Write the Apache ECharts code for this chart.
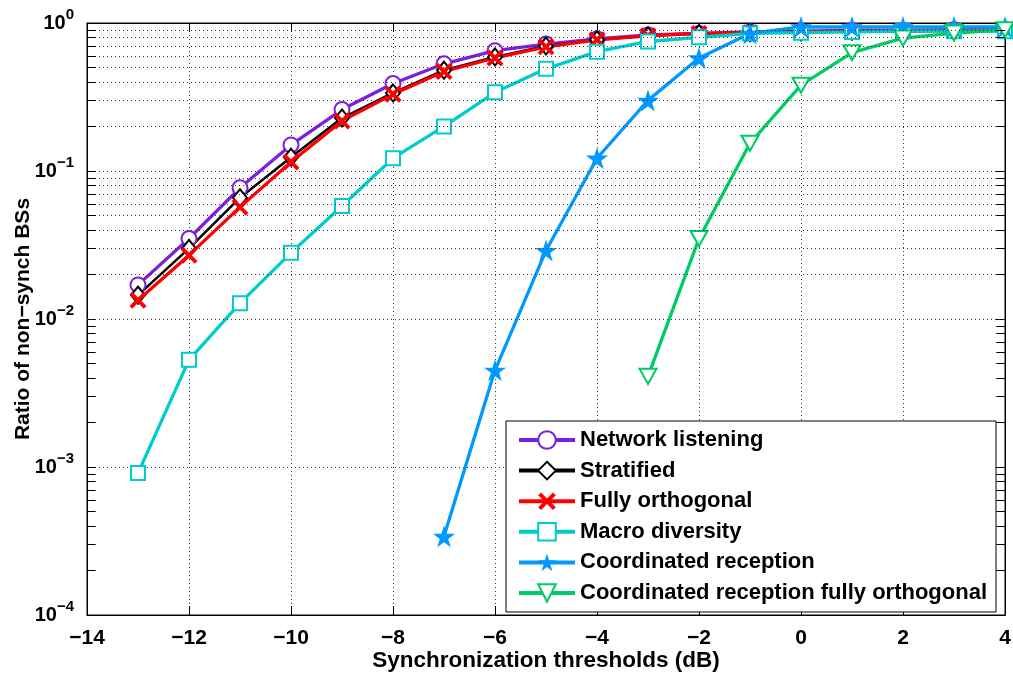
<!DOCTYPE html>
<html>
<head>
<meta charset="utf-8">
<script src="https://cdn.jsdelivr.net/npm/echarts@6/dist/echarts.min.js"></script>
<style>
html,body{margin:0;padding:0;background:#fff;}
#chart{width:1013px;height:673px;}
</style>
</head>
<body>
<div id="chart"></div>
<script>
// ---- Data ----
const thresholds = [-13,-12,-11,-10,-9,-8,-7,-6,-5,-4,-3,-2,-1,0,1,2,3,4];
const networkListening = [0.017,0.035,0.077,0.15,0.26,0.39,0.53,0.65,0.72,0.78,0.83,0.85,0.87,0.88,0.89,0.89,0.9,0.9];
const stratified       = [0.0145,0.030,0.066,0.124,0.228,0.337,0.48,0.59,0.70,0.77,0.82,0.85,0.86,0.87,0.88,0.88,0.89,0.89];
const fullyOrthogonal  = [0.0134,0.027,0.057,0.115,0.218,0.33,0.47,0.58,0.69,0.77,0.82,0.85,0.86,0.87,0.88,0.88,0.89,0.89];
const macroDiversity   = [0.00091,0.0053,0.0128,0.028,0.058,0.122,0.20,0.34,0.49,0.64,0.75,0.80,0.85,0.86,0.87,0.88,0.88,0.88];
const coordThresholds  = [-7,-6,-5,-4,-3,-2,-1,0,1,2,3,4];
const coordinatedReception = [0.00034,0.0045,0.029,0.122,0.30,0.58,0.85,0.94,0.94,0.94,0.94,0.94];
const coordOrthThresholds = [-3,-2,-1,0,1,2,3,4];
const coordinatedReceptionFullyOrth = [0.0041,0.035,0.154,0.38,0.63,0.79,0.855,0.90];
const seriesNames = ['Network listening','Stratified','Fully orthogonal','Macro diversity','Coordinated reception','Coordinated reception fully orthogonal'];
const xTickMin = -14, xTickMax = 4, xTickStep = 2;
const yMin = 1e-4, yMax = 1;
const minorDecades = [-4,-3,-2,-1];
const minorMultipliers = [2,3,4,5,6,7,8,9];

// ---- Helpers ----
const FONT = "'Liberation Sans', Arial, Helvetica, sans-serif";
function pairs(xs, ys){ return xs.map((x,i)=>[x, ys[i]]); }
const minorValues = [];
minorDecades.forEach(d => minorMultipliers.forEach(m => minorValues.push(m*Math.pow(10,d))));

const gridLine = {color:'#3a3a3a', type:[1,3], width:1};
const minorGridData = minorValues.map(v => ({yAxis: v}));
const minorTickLen = 0.17;
const minorTickData = [];
minorValues.forEach(v => {
  minorTickData.push([{coord:[xTickMin, v]}, {coord:[xTickMin + minorTickLen, v]}]);
  minorTickData.push([{coord:[xTickMax, v]}, {coord:[xTickMax - minorTickLen, v]}]);
});

const xPath = 'path://M0,1.6 L1.6,0 L5,3.4 L8.4,0 L10,1.6 L6.6,5 L10,8.4 L8.4,10 L5,6.6 L1.6,10 L0,8.4 L3.4,5 Z';
const starPath = 'path://M50,0 L61.8,36 L100,36 L69,58.5 L80.9,95 L50,72.5 L19.1,95 L31,58.5 L0,36 L38.2,36 Z';

function supLabel(v){
  const e = Math.round(Math.log10(v));
  const s = e < 0 ? '\u2212' + (-e) : String(e);
  return '{b|10}{s|' + s + '}';
}

const chart = echarts.init(document.getElementById('chart'), null, {renderer:'canvas'});
const option = {
  backgroundColor:'#fff',
  animation:false,
  textStyle:{fontFamily:FONT},
  grid:{left:87, right:8, top:23, bottom:58, containLabel:false, outerBoundsMode:'none',
    show:true, borderColor:'#000', borderWidth:1, backgroundColor:'transparent'},
  legend:{
    data: seriesNames,
    orient:'vertical',
    left:506, top:421,
    padding:[8,9,8,11],
    itemWidth:56, itemHeight:22, itemGap:8.6,
    lineStyle:{width:4},
    backgroundColor:'#fff', borderColor:'#000', borderWidth:1,
    textStyle:{fontFamily:FONT, fontWeight:'bold', fontSize:22, color:'#000'}
  },
  xAxis:[{
    type:'value', min:xTickMin, max:xTickMax, interval:xTickStep,
    name:'Synchronization thresholds (dB)', nameLocation:'middle', nameGap:34, nameMoveOverlap:false,
    nameTextStyle:{fontFamily:FONT, fontWeight:'bold', fontSize:22.5, color:'#000', verticalAlign:'top'},
    axisLine:{show:true, onZero:false, lineStyle:{color:'#000', width:1}},
    axisTick:{show:true, inside:true, length:9, lineStyle:{color:'#000'}},
    axisLabel:{margin:13, color:'#000', fontFamily:FONT, fontWeight:'bold', fontSize:21,
      formatter: v => (v < 0 ? '\u2212' + (-v) : String(v))},
    splitLine:{show:true, lineStyle:gridLine}
  },{
    type:'value', min:xTickMin, max:xTickMax, interval:xTickStep, position:'top',
    axisLine:{show:true, onZero:false, lineStyle:{color:'#000'}},
    axisTick:{show:true, inside:true, length:9, lineStyle:{color:'#000'}},
    axisLabel:{show:false}, splitLine:{show:false}
  }],
  yAxis:[{
    type:'log', logBase:10, min:yMin, max:yMax,
    name:'Ratio of non\u2212synch BSs', nameLocation:'middle', nameGap:53, nameRotate:90, nameMoveOverlap:false,
    nameTextStyle:{fontFamily:FONT, fontWeight:'bold', fontSize:21, color:'#000'},
    axisLine:{show:true, onZero:false, lineStyle:{color:'#000', width:1}},
    axisTick:{show:true, inside:true, length:9, lineStyle:{color:'#000'}},
    axisLabel:{margin:13, color:'#000', formatter: supLabel,
      rich:{
        b:{fontFamily:FONT, fontWeight:'bold', fontSize:20, color:'#000'},
        s:{fontFamily:FONT, fontWeight:'bold', fontSize:15, color:'#000', padding:[0,0,16,0]}
      }},
    splitLine:{show:true, lineStyle:gridLine}
  },{
    type:'log', logBase:10, min:yMin, max:yMax, position:'right',
    axisLine:{show:true, onZero:false, lineStyle:{color:'#000'}},
    axisTick:{show:true, inside:true, length:9, lineStyle:{color:'#000'}},
    axisLabel:{show:false}, splitLine:{show:false}
  }],
  series:[
    {
      name:'_grid', type:'line', data:[], silent:true, symbol:'none',
      markLine:{silent:true, symbol:'none', label:{show:false}, animation:false,
        lineStyle:gridLine,
        data: minorGridData}
    },
    {
      name:'_ticks', type:'line', data:[], silent:true, symbol:'none',
      markLine:{silent:true, symbol:'none', label:{show:false}, animation:false,
        lineStyle:{color:'#000', type:'solid', width:1},
        data: minorTickData}
    },
    {
      name:seriesNames[0], type:'line', data:pairs(thresholds, networkListening),
      color:'#7b1fe0', symbol:'emptyCircle', symbolSize:15,
      lineStyle:{width:3.3, color:'#7b1fe0'}, itemStyle:{color:'#7b1fe0', borderWidth:2.8}
    },
    {
      name:seriesNames[1], type:'line', data:pairs(thresholds, stratified),
      color:'#000', symbol:'emptyDiamond', symbolSize:[14,17],
      lineStyle:{width:2.5, color:'#000'}, itemStyle:{color:'#000', borderWidth:2.5}
    },
    {
      name:seriesNames[2], type:'line', data:pairs(thresholds, fullyOrthogonal),
      color:'#ff0000', symbol:xPath, symbolSize:17,
      lineStyle:{width:3.3, color:'#ff0000'}, itemStyle:{color:'#ff0000'}
    },
    {
      name:seriesNames[3], type:'line', data:pairs(thresholds, macroDiversity),
      color:'#00cccc', symbol:'emptyRect', symbolSize:14,
      lineStyle:{width:3.3, color:'#00cccc'}, itemStyle:{color:'#00cccc', borderWidth:2.8}
    },
    {
      name:seriesNames[4], type:'line', data:pairs(coordThresholds, coordinatedReception),
      color:'#0099ff', symbol:starPath, symbolSize:22,
      lineStyle:{width:3.3, color:'#0099ff'}, itemStyle:{color:'#0099ff'}
    },
    {
      name:seriesNames[5], type:'line', data:pairs(coordOrthThresholds, coordinatedReceptionFullyOrth),
      color:'#00cc66', symbol:'emptyTriangle', symbolRotate:180, symbolSize:[17,15],
      lineStyle:{width:3.3, color:'#00cc66'}, itemStyle:{color:'#00cc66', borderWidth:2.8}
    }
  ]
};
chart.setOption(option);
</script>
</body>
</html>
